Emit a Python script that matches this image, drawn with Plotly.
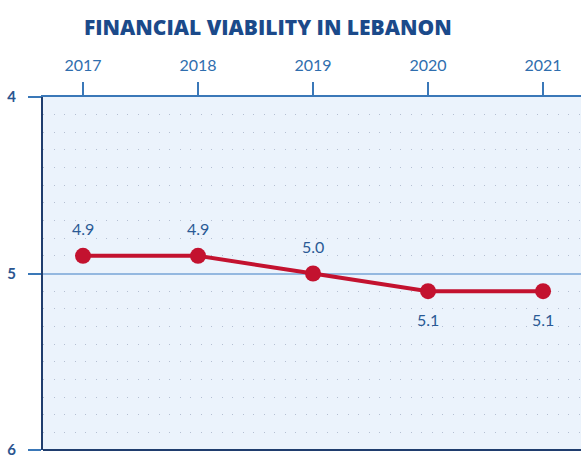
import plotly.graph_objects as go

years = [2017, 2018, 2019, 2020, 2021]
scores = [4.9, 4.9, 5.0, 5.1, 5.1]
labels = ["4.9", "4.9", "5.0", "5.1", "5.1"]
label_side = ["above", "above", "above", "below", "below"]
y_ticks = [4, 5, 6]
title = "FINANCIAL VIABILITY IN LEBANON"

fig = go.Figure()
fig.add_trace(go.Scatter(
    x=years, y=scores, mode="lines+markers",
    line=dict(color="#c3122f", width=4),
    marker=dict(color="#c3122f", size=16),
    hoverinfo="skip", showlegend=False,
))

for x, y, t, s in zip(years, scores, labels, label_side):
    fig.add_annotation(x=x, y=y, text=t, showarrow=False,
                       yshift=27 if s == "above" else -28,
                       font=dict(family="Lato", size=16, color="#2a5a95"))

fig.add_shape(type="line", xref="paper", yref="paper", x0=0, x1=1, y0=0, y1=0,
              line=dict(color="#1f3d6e", width=2))

fig.update_xaxes(
    side="top", range=[2016.652, 2021.33], tickvals=years,
    ticks="outside", ticklen=13, tickwidth=2, tickcolor="#3a78b8",
    showline=True, linecolor="#3a78b8", linewidth=2, automargin=False,
    showgrid=False, zeroline=False, ticklabelstandoff=5,
    tickfont=dict(family="Lato", size=16, color="#2f6eae"),
)
fig.update_yaxes(
    range=[6, 4], tickvals=y_ticks, automargin=False, ticklabeloverflow="allow",
    ticks="outside", ticklen=13, tickwidth=2, tickcolor="#3a78b8",
    showline=True, linecolor="#1f3d6e", linewidth=2,
    showgrid=True, gridcolor="#94b8e0", gridwidth=2, zeroline=False,
    ticklabelstandoff=9,
    tickfont=dict(family="Lato", size=15, color="#2a5590", weight="bold"),
    minor=dict(dtick=0.1, showgrid=True, gridcolor="#b4bfd2",
               griddash="1.3px,9.2px", gridwidth=1.3),
)

fig.update_layout(
    width=581, height=457,
    margin=dict(l=43, r=0, t=97, b=7),
    plot_bgcolor="#ebf3fc", paper_bgcolor="white",
    title=dict(text=title, xref="container", yref="container",
               x=0.461, y=0.939, xanchor="center", yanchor="middle",
               font=dict(family="Open Sans", size=21, color="#1b4a8a", weight=800)),
)

fig.write_html("out.html", config={"displayModeBar": False},
               post_script="document.body.style.margin='0';document.body.style.overflow='hidden';")
